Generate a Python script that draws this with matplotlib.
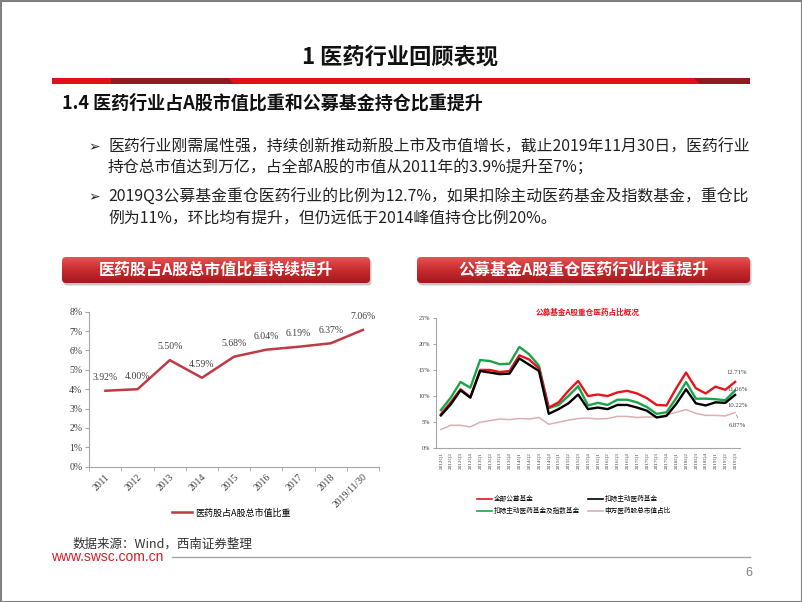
import numpy as np
import matplotlib
matplotlib.use("Agg")
import matplotlib.pyplot as plt
from matplotlib.patches import FancyBboxPatch, Rectangle, Polygon
from matplotlib.colors import LinearSegmentedColormap

plt.rcParams['font.family'] = ['Noto Sans CJK SC', 'DejaVu Sans']
SERIF = ['Liberation Serif', 'Noto Sans CJK SC']

# left chart: pharma share of A-share market cap
years = ["2011", "2012", "2013", "2014", "2015", "2016", "2017", "2018", "2019/11/30"]
share = [3.92, 4.00, 5.50, 4.59, 5.68, 6.04, 6.19, 6.37, 7.06]
share_name = "医药股占A股总市值比重"

# right chart: fund holdings in pharma by quarter
quarters = [f"{y}Q{q}" for y in range(2012, 2020) for q in range(1, 5)][:31]
all_funds = [6.5, 8.8, 11.3, 9.8, 15.0, 15.0, 14.6, 14.8, 17.8, 17.0, 15.3,
             7.8, 8.8, 11.0, 12.9, 10.0, 10.3, 10.0, 10.7, 11.0, 10.5,
             9.6, 8.3, 8.2, 11.5, 14.5, 11.5, 10.5, 11.8, 11.2, 12.71]
ex_active = [6.3, 8.4, 11.1, 9.7, 14.8, 14.5, 14.2, 14.3, 17.2, 16.0, 14.8,
             6.6, 7.5, 8.6, 10.3, 7.5, 7.8, 7.5, 8.3, 8.3, 7.8,
             7.2, 5.9, 6.2, 8.5, 11.3, 8.6, 8.2, 8.8, 8.7, 10.22]
ex_active_index = [7.3, 9.7, 12.7, 11.6, 16.9, 16.7, 16.1, 16.2, 19.4, 18.0, 15.8,
                   7.7, 8.3, 10.0, 11.9, 8.2, 8.7, 8.3, 9.3, 9.3, 8.8,
                   7.9, 6.6, 6.9, 9.6, 12.7, 9.5, 9.5, 9.4, 9.2, 11.06]
sw_pharma = [3.6, 4.4, 4.4, 4.1, 5.0, 5.3, 5.6, 5.5, 5.7, 5.6, 5.9,
             4.6, 5.0, 5.4, 5.7, 5.8, 5.6, 5.7, 6.1, 6.1, 5.9,
             6.0, 6.0, 6.4, 6.9, 7.4, 6.7, 6.3, 6.3, 6.2, 6.87]
series_names = ["全部公募基金", "扣除主动医药基金及指数基金", "扣除主动医药基金", "申万医药股总市值占比"]

fig = plt.figure(figsize=(8.02, 6.02), dpi=100)

# slide background in pixel coords
bg = fig.add_axes([0, 0, 1, 1])
bg.axis('off')

bg.add_patch(Rectangle((0.5, 0.5), 801, 601, fill=False, ec='#808080', lw=1.5))

# red title bar
bg.add_patch(Rectangle((52, 78), 698, 6, fc='#E30F1B', ec='none'))
bg.add_patch(Polygon([(111, 78), (228, 78), (234, 84), (111, 84)], fc='#8E1B1E', ec='none'))
bg.add_patch(Polygon([(694, 78), (750, 78), (750, 84), (700, 84)], fc='#8E1B1E', ec='none'))

bg.text(400, 57, "1 医药行业回顾表现", ha='center', va='center', fontsize=16,
        fontweight='bold', color='#111111')
bg.text(62, 103, "1.4 医药行业占A股市值比重和公募基金持仓比重提升", ha='left', va='center',
        fontsize=13, fontweight='bold', color='#111111')

bullets = [
    ("医药行业刚需属性强，持续创新推动新股上市及市值增长，截止2019年11月30日，医药行业",
     "持仓总市值达到万亿，占全部A股的市值从2011年的3.9%提升至7%；"),
    ("2019Q3公募基金重仓医药行业的比例为12.7%，如果扣除主动医药基金及指数基金，重仓比",
     "例为11%，环比均有提升，但仍远低于2014峰值持仓比例20%。"),
]
for i, (l1, l2) in enumerate(bullets):
    y = 147 + i * 50
    bg.text(88, y, "➢", ha='left', va='center', fontsize=10, family='DejaVu Sans', color='#222222')
    bg.text(108, y, l1, ha='left', va='center', fontsize=11.4, color='#222222')
    bg.text(108, y + 21, l2, ha='left', va='center', fontsize=11.4, color='#222222')

red_grad = LinearSegmentedColormap.from_list('rg', ['#E25555', '#C92A2E', '#A21B1F'])


def header(x0, x1, y0, y1, text):
    shadow = FancyBboxPatch((x0 + 1.5, y0 + 2.5), x1 - x0, y1 - y0,
                            boxstyle='round,pad=0,rounding_size=4', fc='#c8c8c8', ec='none')
    bg.add_patch(shadow)
    box = FancyBboxPatch((x0, y0), x1 - x0, y1 - y0,
                         boxstyle='round,pad=0,rounding_size=4', fc='none', ec='none')
    bg.add_patch(box)
    grad = np.linspace(0, 1, 64).reshape(-1, 1)
    im = bg.imshow(grad, extent=(x0, x1, y1, y0), cmap=red_grad, aspect='auto', zorder=2)
    im.set_clip_path(box)
    bg.text((x0 + x1) / 2, (y0 + y1) / 2, text, ha='center', va='center', color='white',
            fontsize=11.5, fontweight='bold', zorder=3)


header(62, 370, 257, 283, "医药股占A股总市值比重持续提升")
header(417, 750, 257, 283, "公募基金A股重仓医药行业比重提升")

# footer
bg.text(73, 544, "数据来源：Wind，西南证券整理", ha='left', va='center', fontsize=9,
        color='#333333', style='italic')
bg.text(51, 557, "www.swsc.com.cn", ha='left', va='center', fontsize=10,
        family='Liberation Sans', color='#D0202A')
bg.plot([172, 750], [557, 557], color='#A6A6A6', lw=1)
bg.text(749, 573, "6", ha='center', va='center', fontsize=9, color='#808080',
        family='Liberation Sans')

bg.set_xlim(0, 802)
bg.set_ylim(602, 0)

# ---- left chart ----
axL = fig.add_axes([89.3 / 802, 1 - 466.7 / 602, 289.7 / 802, 155 / 602])
xL = np.arange(len(years))
axL.plot(xL, share, color='#BE3A44', lw=1.8, label=share_name)
for xi, v in zip(xL, share):
    axL.annotate(f"{v:.2f}%", (xi, v), xytext=(0, 9.5), textcoords='offset points',
                 ha='center', va='center', fontsize=7, family=SERIF, color='#404040')
axL.set_xlim(-0.5, len(years) - 0.5)
axL.set_ylim(0, 8)
axL.set_yticks(range(9))
axL.set_yticklabels([f"{v}%" for v in range(9)], family=SERIF, fontsize=7, color='#404040')
axL.set_xticks(xL)
axL.set_xticklabels(years, rotation=45, ha='right', rotation_mode='anchor',
                    family=SERIF, fontsize=7, color='#404040')
axL.set_xticks(np.arange(-0.5, len(years)), minor=True)
axL.tick_params(axis='x', which='major', length=0, pad=4)
axL.tick_params(axis='x', which='minor', length=3, color='#A6A6A6')
axL.tick_params(axis='y', length=3, color='#A6A6A6', pad=2)
for s in ['top', 'right']:
    axL.spines[s].set_visible(False)
for s in ['left', 'bottom']:
    axL.spines[s].set_color('#A6A6A6')
axL.legend(loc='center', bbox_to_anchor=(231.5 / 802, 1 - 513 / 602),
           bbox_transform=fig.transFigure, frameon=False, fontsize=6.5,
           handlelength=2.2, handletextpad=0.3)

# ---- right chart ----
axR = fig.add_axes([436 / 802, 1 - 448.3 / 602, 304 / 802, 130.6 / 602])
xR = np.arange(len(quarters))
axR.plot(xR, all_funds, color='#E8141C', lw=1.7, label=series_names[0], zorder=3)
axR.plot(xR, ex_active_index, color='#1BA34A', lw=1.7, label=series_names[1], zorder=2)
axR.plot(xR, ex_active, color='#000000', lw=1.7, label=series_names[2], zorder=4)
axR.plot(xR, sw_pharma, color='#DDB0B0', lw=1.1, label=series_names[3], zorder=1)
axR.set_xlim(-0.5, len(quarters) - 0.5)
axR.set_ylim(0, 25)
axR.set_yticks(range(0, 26, 5))
axR.set_yticklabels([f"{v}%" for v in range(0, 26, 5)], family=SERIF, fontsize=4.5, color='#404040')
axR.set_xticks(xR)
axR.set_xticklabels(quarters, rotation=90, ha='center', va='top',
                    family=SERIF, fontsize=3.8, color='#404040')
axR.tick_params(axis='x', length=0, pad=3)
axR.tick_params(axis='y', length=2, color='#A6A6A6', pad=2)
for s in ['top', 'right']:
    axR.spines[s].set_visible(False)
for s in ['left', 'bottom']:
    axR.spines[s].set_color('#A6A6A6')
axR.set_title("公募基金A股重仓医药占比概况", fontsize=5.5, color='#E8141C',
              fontweight='bold', pad=2, y=1.0)

last = len(quarters) - 1
end_labels = [(all_funds[last], (1, 6.5)), (ex_active_index[last], (2, 0.5)),
              (ex_active[last], (2, -7.5)), (sw_pharma[last], (2, -9.5))]
for v, off in end_labels:
    axR.annotate(f"{v:.2f}%", (last, v), xytext=off, textcoords='offset points',
                 ha='center', va='center', fontsize=4.8, family=SERIF, color='#404040',
                 annotation_clip=False)
axR.annotate("", (last, sw_pharma[last]), xytext=(last + 0.4, sw_pharma[last] - 1.5),
             arrowprops=dict(arrowstyle='-', color='#808080', lw=0.5), annotation_clip=False)

leg = axR.legend(loc='center', bbox_to_anchor=(574 / 802, 1 - 505 / 602),
                 bbox_transform=fig.transFigure, frameon=False, fontsize=4.8, ncol=2,
                 handlelength=2.2, handletextpad=0.3, columnspacing=1.2, labelspacing=0.6)
for h in leg.get_lines():
    h.set_linewidth(1.2)

fig.savefig("out.png", dpi=100)
